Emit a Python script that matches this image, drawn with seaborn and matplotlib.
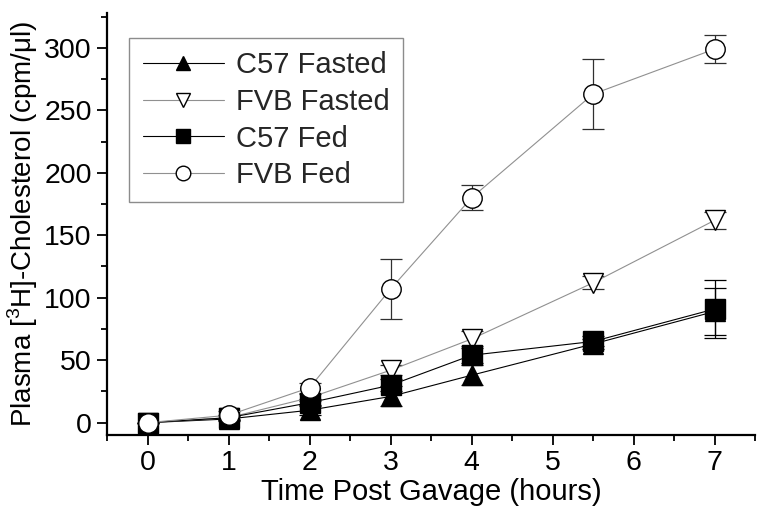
import numpy as np
import pandas as pd
import matplotlib
matplotlib.use('Agg')
import matplotlib.pyplot as plt
import seaborn as sns
from matplotlib.ticker import MultipleLocator

# Dados
tempo = [0, 1, 2, 3, 4, 5.5, 7]
c57_jejum = [0, 3, 10, 21, 38, 63, 89]
c57_jejum_err = [0, 2, 4, 8, 8, 4, 19]
fvb_jejum = [0, 4, 20, 42, 67, 112, 162]
fvb_jejum_err = [0, 2, 3, 4, 6, 5, 7]
c57_alim = [0, 4, 16, 30, 54, 65, 91]
c57_alim_err = [0, 2, 3, 5, 6, 4, 23]
fvb_alim = [0, 6, 28, 107, 180, 263, 299]
fvb_alim_err = [0, 3, 4, 24, 10, 28, 11]

series = [('C57 Fasted', c57_jejum, c57_jejum_err, '^', 'black', 'black', 'black'),
          ('FVB Fasted', fvb_jejum, fvb_jejum_err, 'v', 'white', '#909090', '#303030'),
          ('C57 Fed', c57_alim, c57_alim_err, 's', 'black', 'black', 'black'),
          ('FVB Fed', fvb_alim, fvb_alim_err, 'o', 'white', '#909090', '#303030')]

sns.set_theme(style='ticks')
plt.rcParams['font.family'] = ['Liberation Sans', 'DejaVu Sans']
plt.rcParams['mathtext.fontset'] = 'custom'
plt.rcParams['mathtext.rm'] = 'Liberation Sans'

fig = plt.figure(figsize=(7.59, 5.12), dpi=100)
ax = fig.add_axes([0.141, 0.150, 0.854, 0.825])

for nome, y, err, mk, fc, lc, ec in series:
    df = pd.DataFrame({'Tempo': tempo, 'Valor': y})
    ax.errorbar(tempo, y, yerr=err, fmt='none', ecolor=ec, elinewidth=0.9,
                capsize=8, capthick=0.9, zorder=2)
    sns.lineplot(data=df, x='Tempo', y='Valor', ax=ax, color=lc, linewidth=0.8,
                 marker=mk, markersize=14, markerfacecolor=fc,
                 markeredgecolor='black', markeredgewidth=1.0, label=nome, zorder=3)

ax.set_xlim(-0.5, 7.5)
ax.set_ylim(-10, 328)
ax.xaxis.set_major_locator(MultipleLocator(1))
ax.xaxis.set_minor_locator(MultipleLocator(0.5))
ax.yaxis.set_major_locator(MultipleLocator(50))
ax.yaxis.set_minor_locator(MultipleLocator(25))
ax.tick_params(which='major', length=7, width=1.3, labelsize=20.5, color='black', labelcolor='black', pad=4)
ax.tick_params(which='minor', length=4, width=1.3, color='black')
for s in ['left', 'bottom']:
    ax.spines[s].set_linewidth(1.6)
    ax.spines[s].set_color('black')
sns.despine(ax=ax)

ax.set_xlabel('Time Post Gavage (hours)', fontsize=21, labelpad=1, color='black')
ax.set_ylabel('Plasma [$^{3}$H]-Cholesterol (cpm/μl)', fontsize=20, labelpad=3, color='black')

leg = ax.legend(loc='upper left', bbox_to_anchor=(0.012, 0.975), fontsize=21, frameon=True,
                fancybox=False, edgecolor='#707070', handlelength=2.8, handletextpad=0.4,
                borderpad=0.45, labelspacing=0.3, markerscale=0.75)
leg.get_frame().set_linewidth(1.0)

fig.savefig('out.png', dpi=100)
